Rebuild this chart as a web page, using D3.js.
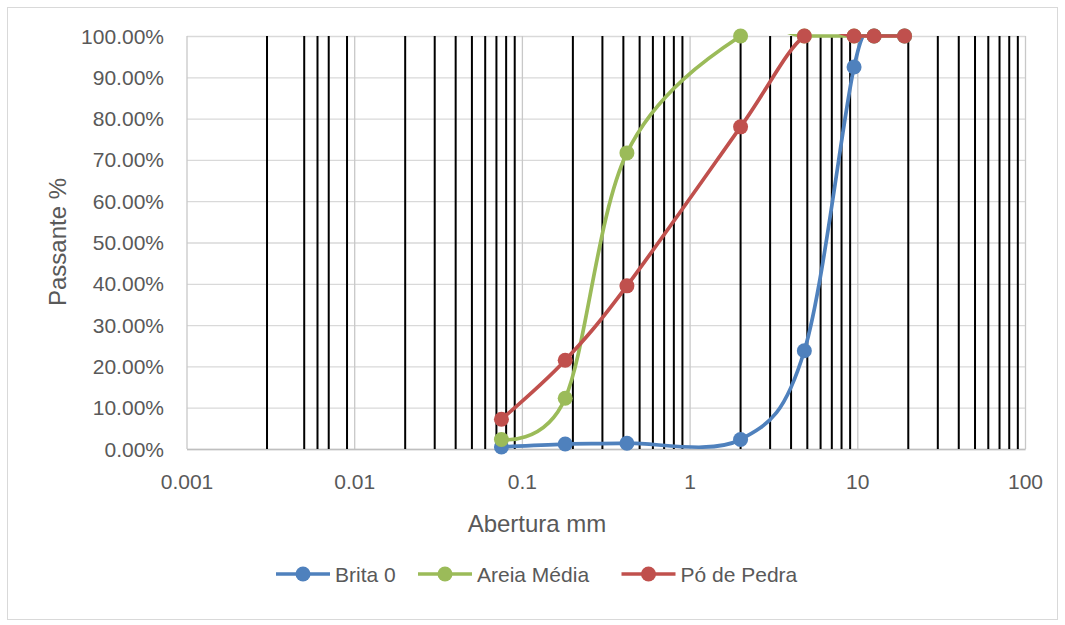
<!DOCTYPE html>
<html><head><meta charset="utf-8">
<script src="https://cdn.jsdelivr.net/npm/d3@7"></script>
<style>
body{margin:0;background:#fff}
text{font-family:'Liberation Sans',Arial,sans-serif;fill:#595959}
</style>
</head><body><svg id="c" width="1065" height="625"></svg>
<script>
// ---- data ----
const sieves = [0.075, 0.18, 0.42, 2.0, 4.8, 9.5, 12.5, 19];
const brita0 = [0.5, 1.2, 1.4, 2.3, 23.8, 92.5, 100, 100];
const areiaMedia = [2.3, 12.3, 71.7, 100, 100, 100, 100, 100];
const poDePedra = [7.2, 21.5, 39.5, 78.0, 100, 100, 100, 100];
const seriesNames = ["Brita 0", "Areia Média", "Pó de Pedra"];
const seriesColors = ["#4F81BD", "#9BBB59", "#C0504D"];
const xTicks = [0.001, 0.01, 0.1, 1, 10, 100];
const xTickLabels = ["0.001", "0.01", "0.1", "1", "10", "100"];
const yTicks = [0, 10, 20, 30, 40, 50, 60, 70, 80, 90, 100];
const refLines = [0.003, 0.005, 0.006, 0.007, 0.009,
  0.02, 0.03, 0.04, 0.05, 0.06, 0.07, 0.08, 0.09,
  0.2, 0.3, 0.4, 0.5, 0.6, 0.7, 0.8, 0.9,
  2, 3, 4, 5, 6, 7, 8, 9,
  20, 30, 40, 50, 60, 70, 80, 90];
const xTitle = "Abertura mm";
const yTitle = "Passante %";

// ---- layout ----
const svg = d3.select("#c");
const L = 187, R = 1025.5, T = 36, B = 449;
const x = d3.scaleLog().domain([0.001, 100]).range([L, R]);
const y = d3.scaleLinear().domain([0, 100]).range([B, T]);

svg.append("rect").attr("x", 7.5).attr("y", 7.5).attr("width", 1050).attr("height", 612)
  .attr("fill", "#fff").attr("stroke", "#d9d9d9");

// horizontal gridlines
svg.append("g").selectAll("line").data(yTicks).join("line")
  .attr("x1", L).attr("x2", R).attr("y1", d => y(d) + 0.5).attr("y2", d => y(d) + 0.5)
  .attr("stroke", "#d9d9d9").attr("stroke-width", 1.3);
// vertical major gridlines
svg.append("g").selectAll("line").data(xTicks).join("line")
  .attr("x1", d => x(d)).attr("x2", d => x(d)).attr("y1", T).attr("y2", B)
  .attr("stroke", "#c8c8c8").attr("stroke-width", 1.3);
// bottom axis line
svg.append("line").attr("x1", L).attr("x2", R).attr("y1", B + 0.5).attr("y2", B + 0.5)
  .attr("stroke", "#bfbfbf").attr("stroke-width", 1.3);
// black reference lines
svg.append("g").selectAll("line").data(refLines).join("line")
  .attr("x1", d => x(d)).attr("x2", d => x(d)).attr("y1", T).attr("y2", B)
  .attr("stroke", "#000").attr("stroke-width", 2);

// y tick labels
svg.append("g").selectAll("text").data(yTicks).join("text")
  .attr("x", 164).attr("y", d => y(d)).attr("dy", "0.36em")
  .attr("text-anchor", "end").style("font-size", "21px")
  .text(d => d3.format(".2f")(d) + "%");
// x tick labels
svg.append("g").selectAll("text").data(xTicks).join("text")
  .attr("x", d => x(d)).attr("y", 481).attr("dy", "0.36em")
  .attr("text-anchor", "middle").style("font-size", "21px")
  .text((d, i) => xTickLabels[i]);

// titles
svg.append("text").attr("x", 537).attr("y", 523).attr("dy", "0.36em")
  .attr("text-anchor", "middle").style("font-size", "24px").text(xTitle);
svg.append("text").attr("transform", "translate(57,242) rotate(-90)").attr("dy", "0.36em")
  .attr("text-anchor", "middle").style("font-size", "24px").text(yTitle);

// series
svg.append("clipPath").attr("id", "pc").append("rect")
  .attr("x", L).attr("y", T - 2).attr("width", R - L).attr("height", B - T + 4);
const allSeries = [brita0, areiaMedia, poDePedra];
const line = d3.line().x(d => x(d[0])).y(d => y(d[1])).curve(d3.curveCardinal.tension(0));
allSeries.forEach((vals, i) => {
  const pts = sieves.map((s, j) => [s, vals[j]]);
  const g = svg.append("g");
  g.append("path").attr("d", line(pts)).attr("fill", "none")
    .attr("stroke", seriesColors[i]).attr("stroke-width", 3.7)
    .attr("stroke-linecap", "round").attr("clip-path", "url(#pc)");
  g.selectAll("circle").data(pts).join("circle")
    .attr("cx", d => x(d[0])).attr("cy", d => y(d[1])).attr("r", 7.5)
    .attr("fill", seriesColors[i]);
});

// legend
const legX = [276, 418, 621.5];
const lg = svg.append("g");
seriesNames.forEach((n, i) => {
  const g = lg.append("g").attr("transform", `translate(${legX[i]},574)`);
  g.append("line").attr("x1", 0).attr("x2", 54).attr("stroke", seriesColors[i]).attr("stroke-width", 3.7);
  g.append("circle").attr("cx", 27).attr("r", 7.5).attr("fill", seriesColors[i]);
  g.append("text").attr("x", 59).attr("dy", "0.36em").style("font-size", "21px").text(n);
});
</script></body></html>
